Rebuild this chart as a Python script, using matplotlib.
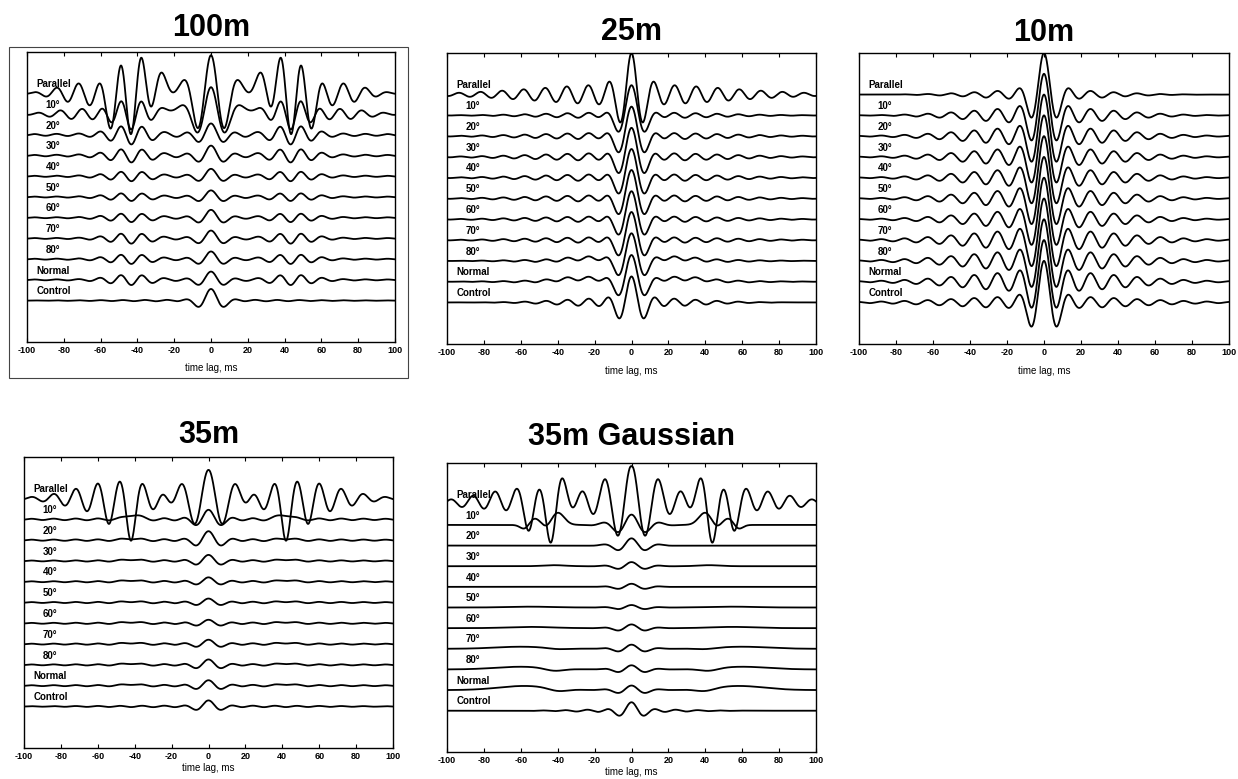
"""Cross-correlation traces for five spacings, stacked by angle"""
import numpy as np
import matplotlib.pyplot as plt
from matplotlib.patches import Rectangle

plt.rcParams['font.family'] = ['Liberation Sans', 'DejaVu Sans']
plt.rcParams['font.weight'] = 'bold'
plt.rcParams['axes.unicode_minus'] = False

titles = ["100m", "25m", "10m", "35m", "35m Gaussian"]
trace_labels = ["Parallel", "10°", "20°", "30°", "40°", "50°", "60°", "70°", "80°",
                "Normal", "Control"]
xticks = list(range(-100, 101, 20))

# every trace is a list of wavelets:
# (centre lag ms, amplitude in trace spacings, period ms (0 = plain bump), width ms)
waves_100m = [
    [(0, 1.85, 15, 9.5), (7.5, -0.3, 0, 2.5), (27, 0.55, 0, 6), (43.5, -1.9, 11.5, 10),
     (54, -0.55, 0, 5), (72, 0.45, 12, 12)],
    [(0, 1.3, 16, 9), (22, 0.25, 0, 6), (43.5, -0.75, 11.5, 9), (70, 0.25, 12, 15)],
    [(0, 0.45, 16, 7), (43.5, -0.4, 11.5, 10), (0, 0.1, 12, 70)],
    [(0, 0.4, 16, 7), (43.5, -0.28, 11.5, 11), (0, 0.08, 12, 70)],
    [(0, 0.3, 16, 7), (43.5, -0.2, 11.5, 11), (0, 0.06, 12, 70)],
    [(0, 0.27, 16, 7), (43.5, -0.16, 11.5, 11), (0, 0.05, 12, 70)],
    [(0, 0.33, 16, 7), (43.5, -0.18, 11.5, 11), (0, 0.05, 12, 70)],
    [(0, 0.33, 16, 7), (43.5, -0.22, 11.5, 11), (0, 0.05, 12, 70)],
    [(0, 0.32, 16, 7), (43.5, -0.2, 11.5, 11), (0, 0.05, 12, 70)],
    [(0, 0.35, 16, 7), (43.5, -0.22, 11.5, 11), (0, 0.05, 12, 70)],
    [(0, 0.52, 16, 6.5), (0, 0.04, 12, 50)],
]

waves_25m = [
    [(0, 1.5, 14, 6.2), (0, 0.5, 11.7, 50)],
    [(0, 1.3, 17, 7), (0, 0.15, 11.6, 40)],
    [(0, 1.25, 17, 7), (0, 0.17, 11.6, 45)],
    [(0, 1.2, 17, 7), (0, 0.2, 11.6, 45)],
    [(0, 1.2, 17, 7), (0, 0.18, 11.6, 45)],
    [(0, 1.2, 17, 7), (0, 0.17, 11.6, 45)],
    [(0, 1.2, 17, 7), (0, 0.15, 11.6, 45)],
    [(0, 1.2, 17, 7), (0, 0.15, 11.6, 45)],
    [(0, 1.2, 17, 7), (0, 0.12, 11.6, 40), (25, 0.12, 0, 10)],
    [(0, 1.15, 17, 7), (0, 0.12, 11.6, 40), (28, 0.15, 0, 12)],
    [(0, 1.0, 16, 7), (0, 0.25, 11.6, 30)],
]

waves_10m = [
    [(0, 1.75, 16, 6.3), (0, 0.25, 12.6, 30)],
    [(0, 1.6, 16, 6.5), (0, 0.4, 12.6, 35)],
    [(0, 1.55, 16, 6.5), (0, 0.45, 12.6, 38)],
    [(0, 1.55, 16, 6.5), (0, 0.45, 12.6, 38)],
    [(0, 1.55, 16, 6.5), (0, 0.45, 12.6, 38)],
    [(0, 1.55, 16, 6.5), (0, 0.45, 12.6, 38)],
    [(0, 1.55, 16, 6.5), (0, 0.45, 12.6, 38)],
    [(0, 1.5, 16, 6.5), (0, 0.5, 12.6, 40)],
    [(0, 1.5, 16, 6.5), (0, 0.5, 12.6, 40)],
    [(0, 1.5, 16, 6.5), (0, 0.5, 12.6, 40)],
    [(0, 1.7, 16, 6.5), (0, 0.3, 12.6, 45)],
]

waves_35m = [
    [(0, 1.3, 16, 14), (48, 0.85, 12, 22), (42, -1.2, 0, 2.2), (54, -0.4, 0, 2.2)],
    [(0, 0.4, 16, 7), (41, 0.22, 0, 4), (0, 0.06, 12, 80)],
    [(0, 0.38, 16, 7), (42, 0.08, 0, 4), (0, 0.05, 12, 80)],
    [(0, 0.25, 16, 7), (42, 0.07, 0, 4), (0, 0.04, 12, 80)],
    [(0, 0.17, 16, 7), (42, 0.07, 0, 4), (0, 0.04, 12, 80)],
    [(0, 0.15, 16, 7), (42, 0.05, 0, 4), (0, 0.04, 12, 80)],
    [(0, 0.13, 16, 7), (42, 0.06, 0, 4), (0, 0.04, 12, 80)],
    [(0, 0.17, 16, 7), (42, 0.06, 0, 4), (0, 0.04, 12, 80)],
    [(0, 0.22, 16, 7), (42, 0.07, 0, 4), (0, 0.04, 12, 80)],
    [(0, 0.22, 16, 7), (42, 0.07, 0, 4), (0, 0.04, 12, 80)],
    [(0, 0.25, 16, 6.5), (0, 0.04, 12, 60)],
]

waves_35mg = [
    [(0, 1.7, 15, 12), (50, 0.6, 12, 30), (50, 0.25, 0, 30), (37.5, 0.6, 0, 3),
     (43.5, -1.6, 0, 2.5), (55.5, -0.95, 0, 2.5)],
    [(0, 0.5, 16, 9), (40, 0.6, 0, 3.5), (53, 0.35, 0, 3.5), (46, -0.2, 0, 2.5),
     (57.5, -0.3, 0, 2.5)],
    [(0, 0.35, 16, 8)],
    [(0, 0.2, 16, 8), (42, 0.05, 0, 6)],
    [(0, 0.15, 16, 8)],
    [(0, 0.12, 16, 8), (55, 0.04, 0, 12)],
    [(0, 0.18, 16, 8), (55, 0.06, 0, 12)],
    [(0, 0.2, 16, 8), (60, 0.1, 0, 14), (40, -0.05, 0, 5)],
    [(0, 0.2, 16, 8), (60, 0.13, 0, 14), (42, -0.12, 0, 5)],
    [(0, 0.22, 16, 8), (58, 0.2, 0, 14), (40, -0.13, 0, 5)],
    [(0, 0.33, 16, 6.5), (0, 0.08, 12, 25)],
]

panel_waves = [waves_100m, waves_25m, waves_10m, waves_35m, waves_35mg]


def trace(t, comps):
    # symmetric in lag: each wavelet sits at +centre and -centre
    u = np.abs(t)
    y = np.zeros_like(t)
    for c, a, p, s in comps:
        env = a * np.exp(-0.5 * ((u - c) / s) ** 2)
        y += env * (np.cos(2 * np.pi * (u - c) / p) if p else 1.0)
    return y


W, H = 1238, 779
# axes boxes in pixels: left, top, right, bottom
boxes = [(27, 52, 395, 342), (447, 53, 816, 344), (859, 53, 1229, 344),
         (24, 457, 393, 748), (447, 463, 816, 752)]
title_y = [1.083, 1.072, 1.069, 1.076, 1.09]
xlabel_pad = [6, 6, 6, 1, 1]

fig = plt.figure(figsize=(W / 100, H / 100), dpi=100)
t = np.linspace(-100, 100, 2001)

for k, (l, tp, r, b) in enumerate(boxes):
    ax = fig.add_axes([l / W, 1 - b / H, (r - l) / W, (b - tp) / H])
    for i, comps in enumerate(panel_waves[k]):
        ax.plot(t, trace(t, comps) - i, color='black', lw=1.3)
        lx = -95 if trace_labels[i][0].isalpha() else -90
        ax.text(lx, -i + 0.45, trace_labels[i], fontsize=7, va='center')
    ax.set_xlim(-100, 100)
    ax.set_ylim(-12, 2)
    ax.set_yticks([])
    ax.set_xticks(xticks)
    ax.tick_params(axis='x', direction='in', top=True, length=3, labelsize=6.5, pad=3)
    ax.set_xlabel("time lag, ms", fontsize=7, labelpad=xlabel_pad[k])
    for sp in ax.spines.values():
        sp.set_linewidth(1.0)
    ax.text(0.5, title_y[k], titles[k], transform=ax.transAxes, ha='center',
            va='center', fontsize=22, fontweight='bold')

# thin frame round the first panel
fig.add_artist(Rectangle((9 / W, 1 - 378 / H), 399 / W, 331 / H, transform=fig.transFigure,
                         fill=False, lw=0.8, ec='#444444'))

fig.savefig("out.png", dpi=100)
